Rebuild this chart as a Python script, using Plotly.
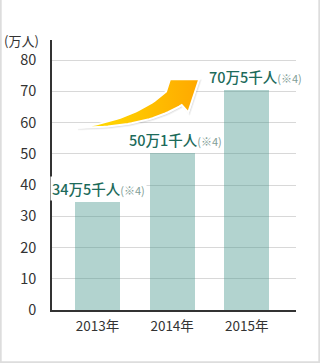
import numpy as np
import plotly.graph_objects as go

# ---- data ----
years = ["2013年", "2014年", "2015年"]
values = [34.5, 50.1, 70.5]
value_labels = ["34万5千人", "50万1千人", "70万5千人"]
note = "(※4)"
y_ticks = [0, 10, 20, 30, 40, 50, 60, 70, 80]
unit_label = "(万人)"

# ---- layout geometry (pixels) ----
W, H = 320, 363
ML, MR, MT, MB = 52, 24, 40, 53
PW, PH = W - ML - MR, H - MT - MB

def px(x):
    return (x - ML) / PW

def py(y):
    return (H - MB - y) / PH

FONT = "Noto Sans CJK JP"
GREEN = "#1d6b5b"
NOTE_C = "#7f9d96"

xs = list(range(len(years)))

fig = go.Figure()
fig.add_trace(go.Bar(
    x=xs, y=values, width=0.6,
    marker=dict(color="rgb(70,150,140)", line=dict(width=0)),
    opacity=0.41, hoverinfo="skip", showlegend=False,
))

# decorative curved arrow (pixel-space overlay axes)
def bez(p0, c, p1, n=30):
    t = np.linspace(0, 1, n)[:, None]
    p0, c, p1 = map(np.array, (p0, c, p1))
    return (1 - t) ** 2 * p0 + 2 * (1 - t) * t * c + t ** 2 * p1

upper = bez((76.7, 127.7), (135, 120), (166, 91.7))
lower = bez((181.7, 105), (145, 128), (76.7, 127.7))
head = np.array([(170, 79.3), (199.3, 79), (188.3, 112.3)])
pts = np.vstack([upper, head, lower])
# soft shadow
fig.add_trace(go.Scatter(
    x=pts[:, 0] + 1.2, y=pts[:, 1] + 1.5, mode="lines", fill="toself",
    fillcolor="rgba(0,0,0,0.08)", line=dict(color="rgba(0,0,0,0.05)", width=2),
    xaxis="x2", yaxis="y2", hoverinfo="skip", showlegend=False,
))
fig.add_trace(go.Scatter(
    x=pts[:, 0], y=pts[:, 1], mode="lines", fill="toself",
    fillgradient=dict(type="horizontal",
                      colorscale=[[0, "#ffe200"], [1, "#ffa800"]]),
    line=dict(color="white", width=2),
    xaxis="x2", yaxis="y2", hoverinfo="skip", showlegend=False,
))

annotations = []
xshifts = [1, 3, 9]
for i, (v, lab) in enumerate(zip(values, value_labels)):
    annotations.append(dict(
        x=xs[i], y=v, xref="x", yref="y", xanchor="center", yanchor="bottom",
        xshift=xshifts[i], yshift=1,
        text=f"{lab}<span style='font-size:11px;font-weight:400;color:{NOTE_C}'>{note}</span>",
        showarrow=False, bgcolor="white", borderpad=1,
        font=dict(family=FONT, size=14.5, color=GREEN, weight=500),
    ))
annotations.append(dict(
    x=px(41), y=py(40), xref="paper", yref="paper", xanchor="right", yanchor="middle",
    text=unit_label, showarrow=False,
    font=dict(family=FONT, size=13, color="#333"),
))

shapes = [dict(
    type="path", xref="paper", yref="paper",
    path=f"M {px(0.8)} {py(0)} L {px(0.8)} {py(362.2)} L {px(319.2)} {py(362.2)} L {px(319.2)} {py(0)}",
    line=dict(color="#dddddd", width=1.8),
)]

fig.update_layout(
    width=W, height=H,
    margin=dict(l=ML, r=MR, t=MT, b=MB, pad=0),
    paper_bgcolor="white", plot_bgcolor="white",
    font=dict(family=FONT, color="#333"),
    bargap=0,
    xaxis=dict(
        range=[-0.61, 2.66], tickvals=xs, ticktext=years,
        showgrid=False, zeroline=False, showline=True, linecolor="#333", linewidth=1.5,
        ticks="", ticklabelstandoff=3, tickfont=dict(size=13.5, color="#333", family=FONT),
        fixedrange=True,
    ),
    yaxis=dict(
        range=[0, 86.4], tickvals=y_ticks, showgrid=True, gridcolor="#d8d8d8", gridwidth=1,
        zeroline=False, showline=True, linecolor="#333", linewidth=1.5,
        ticks="", ticklabelstandoff=11, tickfont=dict(size=14.5, color="#333", family=FONT),
        fixedrange=True,
    ),
    xaxis2=dict(range=[ML, W - MR], overlaying="x", visible=False, fixedrange=True),
    yaxis2=dict(range=[H - MB, MT], overlaying="y", visible=False, fixedrange=True),
    annotations=annotations,
    shapes=shapes,
    showlegend=False,
)

fig.write_html("out.html")
